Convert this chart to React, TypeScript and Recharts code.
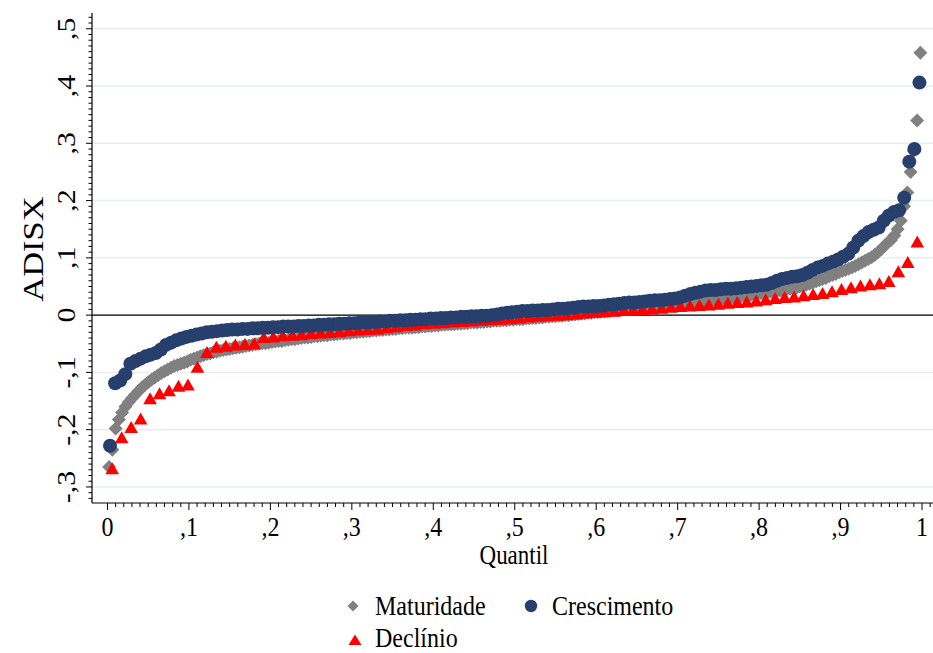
import React from "react";
import {
  ScatterChart,
  Scatter,
  XAxis,
  YAxis,
  CartesianGrid,
  ReferenceLine,
} from "recharts";

// quantile values of ADISX per life-cycle stage
const maturidade = [
  -0.265, -0.235, -0.198, -0.182, -0.17, -0.16, -0.152, -0.145, -0.139, -0.133,
  -0.127, -0.122, -0.117, -0.113, -0.109, -0.105, -0.101, -0.098, -0.095, -0.092,
  -0.089, -0.087, -0.085, -0.083, -0.081, -0.078, -0.076, -0.074, -0.072, -0.07,
  -0.068, -0.067, -0.065, -0.064, -0.062, -0.061, -0.06, -0.059, -0.058, -0.057,
  -0.056, -0.055, -0.054, -0.053, -0.052, -0.051, -0.05, -0.049, -0.049, -0.048,
  -0.047, -0.046, -0.045, -0.045, -0.044, -0.043, -0.042, -0.042, -0.041, -0.04,
  -0.039, -0.039, -0.038, -0.037, -0.037, -0.036, -0.035, -0.035, -0.034, -0.034,
  -0.033, -0.032, -0.032, -0.031, -0.031, -0.03, -0.03, -0.029, -0.029, -0.028,
  -0.028, -0.027, -0.027, -0.026, -0.026, -0.025, -0.025, -0.024, -0.024, -0.023,
  -0.023, -0.022, -0.022, -0.022, -0.021, -0.021, -0.02, -0.02, -0.019, -0.019,
  -0.018, -0.018, -0.017, -0.017, -0.016, -0.016, -0.016, -0.015, -0.015, -0.014,
  -0.014, -0.013, -0.013, -0.013, -0.012, -0.012, -0.011, -0.011, -0.01, -0.01,
  -0.01, -0.009, -0.009, -0.008, -0.008, -0.007, -0.007, -0.007, -0.006, -0.006,
  -0.005, -0.005, -0.004, -0.004, -0.003, -0.003, -0.002, -0.002, -0.001, -0.001,
  0.0, 0.0, 0.001, 0.001, 0.002, 0.003, 0.003, 0.004, 0.004, 0.005,
  0.005, 0.006, 0.006, 0.007, 0.008, 0.008, 0.009, 0.009, 0.01, 0.011,
  0.011, 0.012, 0.012, 0.013, 0.013, 0.014, 0.015, 0.015, 0.016, 0.016,
  0.017, 0.018, 0.018, 0.019, 0.019, 0.02, 0.021, 0.021, 0.022, 0.022,
  0.023, 0.023, 0.024, 0.025, 0.025, 0.026, 0.027, 0.028, 0.028, 0.029,
  0.03, 0.031, 0.031, 0.032, 0.033, 0.034, 0.035, 0.035, 0.036, 0.037,
  0.038, 0.039, 0.04, 0.041, 0.041, 0.042, 0.043, 0.044, 0.045, 0.046,
  0.047, 0.048, 0.05, 0.051, 0.053, 0.055, 0.057, 0.059, 0.061, 0.063,
  0.065, 0.068, 0.07, 0.072, 0.075, 0.077, 0.079, 0.081, 0.083, 0.086,
  0.089, 0.092, 0.095, 0.098, 0.101, 0.105, 0.11, 0.115, 0.121, 0.127,
  0.131, 0.139, 0.15, 0.165, 0.19, 0.214, 0.25, 0.287, 0.34, 0.458,
];

const crescimento = [
  -0.228, -0.119, -0.114, -0.103, -0.085, -0.08, -0.076, -0.072, -0.069, -0.066,
  -0.06, -0.052, -0.048, -0.044, -0.041, -0.038, -0.036, -0.034, -0.032, -0.03,
  -0.029, -0.028, -0.027, -0.026, -0.025, -0.025, -0.024, -0.024, -0.023, -0.023,
  -0.022, -0.022, -0.021, -0.021, -0.02, -0.02, -0.02, -0.019, -0.019, -0.018,
  -0.018, -0.017, -0.017, -0.016, -0.016, -0.015, -0.015, -0.014, -0.014, -0.013,
  -0.013, -0.012, -0.012, -0.011, -0.011, -0.01, -0.01, -0.009, -0.009, -0.008,
  -0.008, -0.007, -0.007, -0.006, -0.006, -0.005, -0.005, -0.004, -0.004, -0.003,
  -0.003, -0.002, -0.002, -0.001, -0.001, 0.0, 0.001, 0.003, 0.004, 0.005,
  0.006, 0.007, 0.007, 0.008, 0.008, 0.009, 0.009, 0.01, 0.011, 0.011,
  0.012, 0.013, 0.014, 0.015, 0.015, 0.016, 0.016, 0.017, 0.018, 0.019,
  0.02, 0.021, 0.022, 0.022, 0.023, 0.024, 0.025, 0.026, 0.026, 0.027,
  0.028, 0.029, 0.031, 0.034, 0.037, 0.039, 0.041, 0.043, 0.044, 0.044,
  0.045, 0.046, 0.046, 0.047, 0.048, 0.049, 0.05, 0.051, 0.052, 0.053,
  0.056, 0.06, 0.063, 0.065, 0.067, 0.068, 0.07, 0.074, 0.079, 0.083,
  0.086, 0.09, 0.093, 0.097, 0.102, 0.107, 0.118, 0.13, 0.138, 0.145,
  0.149, 0.153, 0.165, 0.174, 0.18, 0.183, 0.205, 0.268, 0.29, 0.406,
];

const declinio = [
  -0.269, -0.215, -0.197, -0.182, -0.147, -0.138, -0.133, -0.125, -0.123, -0.092,
  -0.066, -0.057, -0.055, -0.053, -0.052, -0.051, -0.04, -0.039, -0.037, -0.036,
  -0.035, -0.033, -0.032, -0.031, -0.03, -0.028, -0.027, -0.026, -0.025, -0.023,
  -0.021, -0.019, -0.018, -0.016, -0.015, -0.014, -0.013, -0.012, -0.011, -0.01,
  -0.009, -0.008, -0.007, -0.006, -0.004, -0.003, -0.002, -0.001, 0.0, 0.001,
  0.003, 0.004, 0.005, 0.006, 0.007, 0.008, 0.009, 0.01, 0.011, 0.013,
  0.014, 0.015, 0.016, 0.017, 0.018, 0.02, 0.021, 0.022, 0.024, 0.026,
  0.028, 0.03, 0.031, 0.033, 0.035, 0.037, 0.04, 0.044, 0.047, 0.05,
  0.052, 0.054, 0.058, 0.075, 0.091, 0.127,
];

const xMajor = [0, 0.1, 0.2, 0.3, 0.4, 0.5, 0.6, 0.7, 0.8, 0.9, 1];
const xLabels = ["0", ",1", ",2", ",3", ",4", ",5", ",6", ",7", ",8", ",9", "1"];
const yMajor = [-0.3, -0.2, -0.1, 0, 0.1, 0.2, 0.3, 0.4, 0.5];
const yLabels = ["-,3", "-,2", "-,1", "0", ",1", ",2", ",3", ",4", ",5"];

// minor ticks every 0.01
const xMinor = Array.from({ length: 102 }, (_, i) => i / 100);
const yMinor = Array.from({ length: 85 }, (_, i) => (i - 32) / 100);

const GRAY = "#808080";
const NAVY = "#263f6d";
const RED = "#ff0000";
const SERIF = '"Liberation Serif", "Times New Roman", Times, serif';
const STRETCH = 1.15;

// quantile plotting position (i+0.5)/n
const toPoints = (vals: number[]) =>
  vals.map((v, i) => ({ q: (i + 0.5) / vals.length, v }));

const labelFor = (v: number, majors: number[], labels: string[]) => {
  const k = majors.findIndex((m) => Math.abs(m - v) < 1e-6);
  return k >= 0 ? labels[k] : null;
};

function XTick(props: any) {
  const { x, y, payload } = props;
  const label = labelFor(payload.value, xMajor, xLabels);
  return (
    <g>
      <line x1={x} x2={x} y1={y} y2={y + (label ? 7 : 4)} stroke="#000" strokeWidth={1} />
      {label && (
        <text
          transform={`translate(${x},${y + 33}) scale(1,${STRETCH})`}
          textAnchor="middle"
          fontFamily={SERIF}
          fontSize={24}
          fill="#000"
        >
          {label}
        </text>
      )}
    </g>
  );
}

function YTick(props: any) {
  const { x, y, payload } = props;
  const label = labelFor(payload.value, yMajor, yLabels);
  return (
    <g>
      <line x1={x - (label ? 6 : 3.5)} x2={x} y1={y} y2={y} stroke="#000" strokeWidth={1} />
      {label && (
        <text
          transform={`translate(${x - 17},${y}) scale(1,${STRETCH}) rotate(-90)`}
          textAnchor="middle"
          fontFamily={SERIF}
          fontSize={26}
          fill="#000"
        >
          {label}
        </text>
      )}
    </g>
  );
}

const Diamond = (p: any) => {
  const { cx, cy } = p;
  const r = 7;
  return <path d={`M${cx},${cy - r}L${cx + r},${cy}L${cx},${cy + r}L${cx - r},${cy}Z`} fill={GRAY} />;
};

const Dot = (p: any) => <circle cx={p.cx} cy={p.cy} r={7} fill={NAVY} />;

const Tri = (p: any) => {
  const { cx, cy } = p;
  return <path d={`M${cx},${cy - 7}L${cx + 6.8},${cy + 5}L${cx - 6.8},${cy + 5}Z`} fill={RED} />;
};

export default function App() {
  return (
    <div style={{ position: "absolute", left: 0, top: 0, width: 933, height: 653, background: "#fff" }}>
      <ScatterChart width={933} height={653} margin={{ top: 13, right: 0, bottom: 0, left: 0 }}>
        <CartesianGrid vertical={false} horizontalValues={yMajor} stroke="#e6eef1" strokeWidth={1.5} />
        <XAxis
          type="number"
          dataKey="q"
          domain={[-0.019, 1.0135]}
          allowDataOverflow
          ticks={xMinor}
          interval={0}
          tick={(p: any) => <XTick {...p} />}
          tickLine={false}
          tickSize={0}
          tickMargin={0}
          height={150}
          axisLine={{ stroke: "#000", strokeWidth: 1.2 }}
        />
        <YAxis
          type="number"
          dataKey="v"
          domain={[-0.328, 0.5275]}
          allowDataOverflow
          ticks={yMinor}
          interval={0}
          tick={(p: any) => <YTick {...p} />}
          tickLine={false}
          tickSize={0}
          tickMargin={0}
          width={92}
          axisLine={{ stroke: "#000", strokeWidth: 1.2 }}
        />
        <Scatter name="Maturidade" data={toPoints(maturidade)} shape={Diamond} isAnimationActive={false} />
        <Scatter name="Declínio" data={toPoints(declinio)} shape={Tri} isAnimationActive={false} />
        <Scatter name="Crescimento" data={toPoints(crescimento)} shape={Dot} isAnimationActive={false} />
        <ReferenceLine y={0} stroke="#000" strokeWidth={1.2} />
      </ScatterChart>
      <svg
        width={933}
        height={653}
        style={{ position: "absolute", left: 0, top: 0, pointerEvents: "none" }}
        fontFamily={SERIF}
      >
        <text transform={`translate(43,249) scale(1,${STRETCH}) rotate(-90)`} textAnchor="middle" fontSize={30}>
          ADISX
        </text>
        <text transform={`translate(514,564) scale(1,${STRETCH})`} textAnchor="middle" fontSize={23}>
          Quantil
        </text>
        {/* legend */}
        <path d="M353,600.5L358.5,606L353,611.5L347.5,606Z" fill={GRAY} />
        <text transform={`translate(375,615) scale(1,${STRETCH})`} fontSize={24}>Maturidade</text>
        <circle cx={531} cy={606} r={6.2} fill={NAVY} />
        <text transform={`translate(552,615) scale(1,${STRETCH})`} fontSize={24}>Crescimento</text>
        <path d="M355,634.5L361.5,645L348.5,645Z" fill={RED} />
        <text transform={`translate(375,647) scale(1,${STRETCH})`} fontSize={24}>Declínio</text>
      </svg>
    </div>
  );
}
